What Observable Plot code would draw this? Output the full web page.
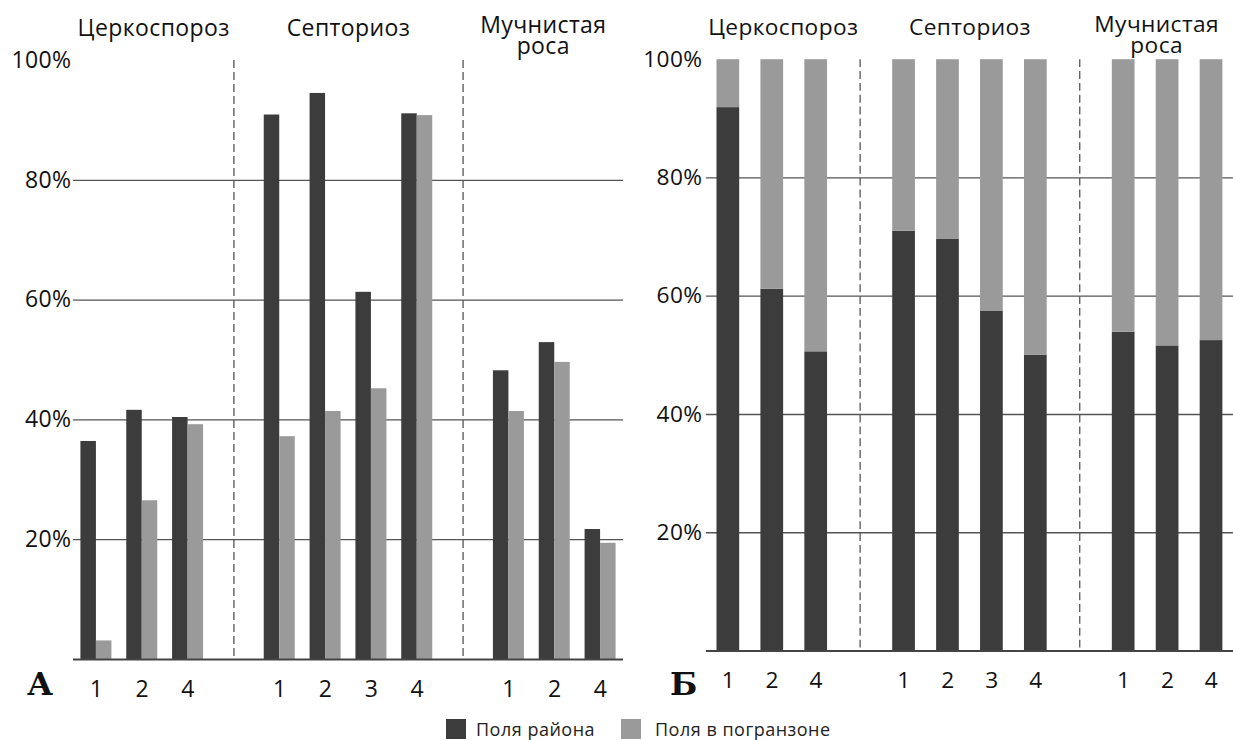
<!DOCTYPE html>
<html><head><meta charset="utf-8">
<script src="https://cdn.jsdelivr.net/npm/d3@7"></script>
<script src="https://cdn.jsdelivr.net/npm/@observablehq/plot@0.6"></script>
<style>
html,body{margin:0;padding:0;background:#fff;overflow:hidden;width:1233px;height:740px;}
#wrap{position:relative;width:1233px;height:740px;overflow:hidden;font-family:"Open Sans",sans-serif;color:#111;}
#panelA{position:absolute;left:0;top:0;}
#panelB{position:absolute;left:620px;top:0;}
#wrap svg text{letter-spacing:0.4px;}
.letter{position:absolute;font-family:"DejaVu Serif",serif;font-weight:bold;font-size:32px;line-height:32px;color:#111;}
#legend{position:absolute;top:717px;left:446px;display:flex;align-items:center;font-size:18px;letter-spacing:0.5px;color:#222;white-space:nowrap;}
.sw{width:20px;height:20px;display:inline-block;margin-right:10px;flex:none;}
.item{display:flex;align-items:center;}
</style></head><body>
<div id="wrap">
<div id="panelA"></div><div id="panelB"></div>
<span class="letter" style="left:27px;top:668px">А</span>
<span class="letter" style="left:670px;top:668px">Б</span>
<div id="legend"></div>
</div>
<script>
// ---- data ----
const slots = ["Ц1","Ц2","Ц4","g1","С1","С2","С3","С4","g2","М1","М2","М4"];
const slotLabels = ["1","2","4","","1","2","3","4","","1","2","4"];
const gapSlots = ["g1","g2"];
const barSlots = ["Ц1","Ц2","Ц4","С1","С2","С3","С4","М1","М2","М4"];
const diseases = ["Церкоспороз","Септориоз","Мучнистая\nроса"];
const titleSlots = ["Ц2","С2","М2"];
const seriesNames = ["Поля района","Поля в погранзоне"];
const seriesColors = ["#3c3c3c","#9a9a9a"];
const yTicks = [20,40,60,80,100];
const gridValues = [20,40,60,80];
// panel А: % of fields
const aRaiona  = [36.4, 41.6, 40.4, 90.9, 94.5, 61.3, 91.1, 48.2, 52.9, 21.7];
const aPogran  = [ 3.1, 26.5, 39.2, 37.2, 41.4, 45.2, 90.8, 41.4, 49.6, 19.4];
// panel Б: shares (100% stacked)
const bRaiona  = [91.9, 61.2, 50.6, 71.0, 69.6, 57.5, 50.0, 53.9, 51.6, 52.5];
const bPogran  = [ 8.1, 38.8, 49.4, 29.0, 30.4, 42.5, 50.0, 46.1, 48.4, 47.5];

const labelOf = Object.fromEntries(slots.map((s,i)=>[s, slotLabels[i]]));
const tableA = [], tableB = [];
barSlots.forEach((s,i)=>{
  tableA.push({slot:s, series:seriesNames[0], value:aRaiona[i]});
  tableA.push({slot:s, series:seriesNames[1], value:aPogran[i]});
  tableB.push({slot:s, series:seriesNames[0], value:bRaiona[i]});
  tableB.push({slot:s, series:seriesNames[1], value:bPogran[i]});
});
const gaps = gapSlots.map(s=>({slot:s}));
const titles = diseases.map((d,i)=>({slot:titleSlots[i], name:d}));
const titleShift = [0.25, 0.5, -0.25];
const titleLift = [0, 0, -3];

const H = 705, MT = 60, MB = 46, FS = 23;
const font = {fontFamily:"Open Sans, sans-serif", fontSize: FS + "px", color:"#111", background:"transparent", overflow:"visible"};
const gridStyle = {stroke:"#555", strokeWidth:1.3, strokeOpacity:1};
const dashStyle = {stroke:"#555", strokeWidth:1.3, strokeOpacity:1, strokeDasharray:"8,4"};
const baseStyle = {stroke:"#444", strokeWidth:2, strokeOpacity:1};
const titleMarks = (step) => titles.map((t,i)=>Plot.text([t], {x:"slot", text:"name", frameAnchor:"top", lineAnchor:"top", dy:-40 + titleLift[i], dx:titleShift[i]*step, fontSize:FS, lineHeight:0.92, fill:"#111"}));

// ---- Panel А (grouped) ----
const WA = 623, MLA = 73, PIA = 0.3236;
const stepA = (WA - MLA) / slots.length;
const halfA = stepA * (1 - PIA) / 2;
const plotA = Plot.plot({
  width: WA, height: H, marginTop: MT, marginBottom: MB, marginLeft: MLA, marginRight: 0,
  style: font,
  x: {domain: slots, round: false, paddingInner: PIA, paddingOuter: PIA / 2, label: null, tickSize: 0, tickPadding: 21, tickFormat: d => labelOf[d]},
  y: {domain: [0,100], ticks: yTicks, tickFormat: d => d + "%", tickSize: 0, tickPadding: 2, label: null},
  color: {domain: seriesNames, range: seriesColors},
  marks: [
    Plot.ruleY(gridValues, gridStyle),
    Plot.ruleX(gaps, {x:"slot", ...dashStyle}),
    Plot.barY(tableA, {filter: d => d.series === seriesNames[0], x:"slot", y:"value", fill:"series", insetRight: halfA}),
    Plot.barY(tableA, {filter: d => d.series === seriesNames[1], x:"slot", y:"value", fill:"series", insetLeft: halfA}),
    Plot.ruleY([0], baseStyle),
    ...titleMarks(stepA)
  ]
});
document.getElementById("panelA").appendChild(plotA);

// ---- Panel Б (100% stacked) ----
const WB = 621, MLB = 87, PIB = 0.483;
const stepB = (WB - MLB) / slots.length;
const plotB = Plot.plot({
  width: WB, height: H, marginTop: MT, marginBottom: MB, marginLeft: MLB, marginRight: 0,
  style: font,
  x: {domain: slots, round: false, paddingInner: PIB, paddingOuter: PIB / 2, label: null, tickSize: 0, tickPadding: 21, tickFormat: d => labelOf[d]},
  y: {domain: [0,100], ticks: yTicks, tickFormat: d => d + "%", tickSize: 0, tickPadding: 4, label: null},
  color: {domain: seriesNames, range: seriesColors},
  marks: [
    Plot.ruleY(gridValues, gridStyle),
    Plot.ruleX(gaps, {x:"slot", ...dashStyle}),
    Plot.barY(tableB, {x:"slot", y:"value", fill:"series"}),
    Plot.ruleY([0], baseStyle),
    ...titleMarks(stepB)
  ]
});
document.getElementById("panelB").appendChild(plotB);

// ---- legend ----
const leg = document.getElementById("legend");
seriesNames.forEach((n,i)=>{
  const it = document.createElement("span"); it.className = "item";
  if (i === 0) it.style.width = "175px";
  const sw = document.createElement("span"); sw.className = "sw"; sw.style.background = seriesColors[i];
  if (i === 1) sw.style.marginRight = "14px";
  const tx = document.createElement("span"); tx.textContent = n;
  it.appendChild(sw); it.appendChild(tx); leg.appendChild(it);
});
</script>
</body></html>
